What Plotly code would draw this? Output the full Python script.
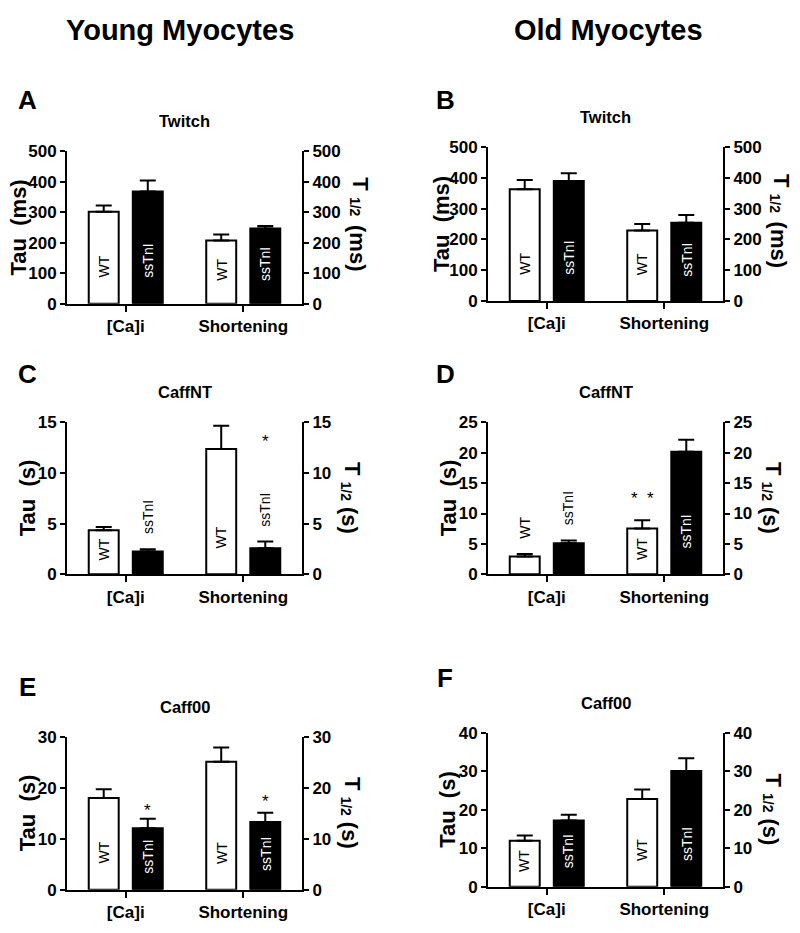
import plotly.graph_objects as go

# ---------------- data ----------------
categories = ["[Ca]i", "Shortening"]
genotypes = ["WT", "ssTnI"]
panel_letters = ["A", "B", "C", "D", "E", "F"]
panel_titles = ["Twitch", "Twitch", "CaffNT", "CaffNT", "Caff00", "Caff00"]
unit_labels = ["ms", "ms", "s", "s", "s", "s"]
axis_max = [500, 500, 15, 25, 30, 40]
axis_step = [100, 100, 5, 5, 10, 10]
column_headers = ["Young Myocytes", "Old Myocytes"]

# means / SEM, order: [Ca]i, Shortening
wt_A = [301, 207]
wt_A_sem = [21, 20]
ss_A = [368, 247]
ss_A_sem = [36, 8]

wt_B = [363, 229]
wt_B_sem = [30, 21]
ss_B = [390, 254]
ss_B_sem = [25, 25]

wt_C = [4.34, 12.37]
wt_C_sem = [0.32, 2.31]
ss_C = [2.25, 2.57]
ss_C_sem = [0.22, 0.67]

wt_D = [2.94, 7.55]
wt_D_sem = [0.38, 1.34]
ss_D = [5.09, 20.18]
ss_D_sem = [0.48, 1.98]

wt_E = [18.0, 25.1]
wt_E_sem = [1.7, 2.8]
ss_E = [12.05, 13.3]
ss_E_sem = [1.9, 1.8]

wt_F = [11.94, 22.8]
wt_F_sem = [1.4, 2.5]
ss_F = [17.2, 30.1]
ss_F_sem = [1.5, 3.3]

wt_means = [wt_A, wt_B, wt_C, wt_D, wt_E, wt_F]
wt_sems = [wt_A_sem, wt_B_sem, wt_C_sem, wt_D_sem, wt_E_sem, wt_F_sem]
ss_means = [ss_A, ss_B, ss_C, ss_D, ss_E, ss_F]
ss_sems = [ss_A_sem, ss_B_sem, ss_C_sem, ss_D_sem, ss_E_sem, ss_F_sem]

# significance marks: (panel, genotype index, category index, text, y)
sig_marks = [
    (2, 1, 1, "*", 13.15),
    (3, 0, 1, "*\u00a0\u00a0*", 12.45),
    (4, 1, 0, "*", 15.6),
    (4, 1, 1, "*", 17.3),
]

# ---------------- layout geometry (pixels in the page) ----------------
W, H = 800, 933
FONT = "Liberation Sans, Arial, Helvetica, sans-serif"
# x0, x1, ytop, ybottom
boxes = [
    (67, 302, 145, 301),
    (488, 723, 141, 298),
    (67, 302, 422, 577),
    (488, 723, 422, 577),
    (67, 302, 743, 899),
    (488, 723, 739, 896),
]
letter_pos = [(27, 93), (445, 93), (27, 373), (445, 373), (27, 692), (445, 683)]
left_title_x = [18, 441, 27, 448, 27, 448]
right_title_x = [361, 781, 352, 773, 352, 774]
# vertical offsets (px from plot centre) of "T", "1/2", unit in right title
right_title_dy = {"ms": (-44, -21, 21), "s": (-30, -7, 22)}
# bar-label placement: True -> above bar (outside)
label_outside = [
    [[False, False], [False, False]],
    [[False, False], [False, False]],
    [[False, False], [True, True]],
    [[True, False], [True, False]],
    [[False, False], [False, False]],
    [[False, False], [False, False]],
]
label_len = [22, 35]
BAR_OFF = 0.1875


def px(x):
    return x / W


def py(y):
    return 1 - y / H


fig = go.Figure()
annotations = []
layout = {}

for p in range(6):
    n = p + 1
    nr = p + 7
    x0, x1, yt, yb = boxes[p]
    xname = "x" if n == 1 else f"x{n}"
    yname = "y" if n == 1 else f"y{n}"
    yrname = f"y{nr}"
    plot_h = yb - yt

    for g, (means, sems) in enumerate([(wt_means[p], wt_sems[p]), (ss_means[p], ss_sems[p])]):
        fill = "white" if g == 0 else "black"
        fig.add_trace(go.Bar(
            x=[0, 1], y=means, name=genotypes[g], showlegend=False,
            marker=dict(color=fill, line=dict(color="black", width=2)),
            error_y=dict(type="data", symmetric=False, array=sems,
                         arrayminus=[0] * len(sems), color="black",
                         thickness=2, width=8),
            xaxis=xname, yaxis=yname, hoverinfo="skip",
        ))
        # rotated bar labels
        for c in range(2):
            xc = c + (-BAR_OFF if g == 0 else BAR_OFF)
            if label_outside[p][g][c]:
                annotations.append(dict(
                    x=xc, y=means[c] + sems[c], xref=xname, yref=yname,
                    text=genotypes[g], showarrow=False, textangle=-90,
                    yanchor="bottom", xanchor="center", yshift=13,
                    font=dict(family=FONT, size=14, color="black")))
            else:
                bar_px = means[c] / axis_max[p] * plot_h
                shift = min(24, max(2, (bar_px - label_len[g]) / 2))
                annotations.append(dict(
                    x=xc, y=0, xref=xname, yref=yname,
                    text=genotypes[g], showarrow=False, textangle=-90,
                    yanchor="bottom", xanchor="center", yshift=shift,
                    font=dict(family=FONT, size=14,
                              color="black" if g == 0 else "white")))

    # invisible carrier so the right axis is drawn
    fig.add_trace(go.Bar(x=[0, 1], y=[0, 0], xaxis=xname, yaxis=yrname,
                         showlegend=False, hoverinfo="skip",
                         marker=dict(color="rgba(0,0,0,0)",
                                     line=dict(width=0)), width=0.0001))

    axis_common = dict(showline=True, linewidth=2, linecolor="black",
                       ticks="outside", tickwidth=2, tickcolor="black",
                       showgrid=False, zeroline=False, fixedrange=True)
    layout["xaxis" if n == 1 else f"xaxis{n}"] = dict(
        domain=[px(x0), px(x1)], anchor=yname, range=[-0.5, 1.5],
        tickmode="array", tickvals=[0, 1], ticktext=categories, ticklen=6,
        tickfont=dict(family=FONT, size=17, color="black", weight="bold"),
        **axis_common)
    layout["yaxis" if n == 1 else f"yaxis{n}"] = dict(
        domain=[py(yb), py(yt)], anchor=xname, range=[0, axis_max[p]],
        dtick=axis_step[p], tick0=0, ticklen=5,
        tickfont=dict(family=FONT, size=17, color="black", weight="bold"),
        **axis_common)
    layout[f"yaxis{nr}"] = dict(
        domain=[py(yb), py(yt)], anchor=xname, overlaying=yname, side="right",
        range=[0, axis_max[p]], dtick=axis_step[p], tick0=0, ticklen=5,
        tickfont=dict(family=FONT, size=17, color="black", weight="bold"),
        **axis_common)

    # panel title
    annotations.append(dict(
        x=px((x0 + x1) / 2), y=py(yt - 31), xref="paper", yref="paper",
        text=panel_titles[p], showarrow=False, xanchor="center", yanchor="middle",
        font=dict(family=FONT, size=16.5, color="black", weight="bold")))
    # panel letter
    lx, ly = letter_pos[p]
    annotations.append(dict(
        x=px(lx), y=py(ly), xref="paper", yref="paper",
        text=panel_letters[p], showarrow=False, xanchor="center", yanchor="middle",
        font=dict(family=FONT, size=26, color="black", weight="bold")))
    # left axis title
    annotations.append(dict(
        x=px(left_title_x[p]), y=py((yt + yb) / 2), xref="paper", yref="paper",
        text=f"Tau\u00a0\u00a0({unit_labels[p]})", showarrow=False, textangle=-90,
        xanchor="center", yanchor="middle",
        font=dict(family=FONT, size=22, color="black", weight="bold")))
    # right axis title: "T", "1/2", "(unit)"
    dyT, dyS, dyU = right_title_dy[unit_labels[p]]
    yc = (yt + yb) / 2
    xr = right_title_x[p]
    for txt, dy, dx, size in [("T", dyT, 0, 22), ("1/2", dyS, -6, 14),
                              (f"({unit_labels[p]})", dyU, -3, 22)]:
        annotations.append(dict(
            x=px(xr + dx), y=py(yc + dy), xref="paper", yref="paper",
            text=txt, showarrow=False, textangle=90,
            xanchor="center", yanchor="middle",
            font=dict(family=FONT, size=size, color="black", weight="bold")))

# significance asterisks
for (p, g, c, txt, yv) in sig_marks:
    n = p + 1
    xname = "x" if n == 1 else f"x{n}"
    yname = "y" if n == 1 else f"y{n}"
    annotations.append(dict(
        x=c + (-BAR_OFF if g == 0 else BAR_OFF), y=yv, xref=xname, yref=yname,
        text=txt, showarrow=False, xanchor="center", yanchor="middle",
        font=dict(family=FONT, size=17, color="black")))

# column headers
for i, hdr in enumerate(column_headers):
    annotations.append(dict(
        x=px([180, 608][i]), y=py(21), xref="paper", yref="paper",
        text=hdr, showarrow=False, xanchor="center", yanchor="middle",
        font=dict(family="Liberation Sans Narrow, " + FONT, size=29,
                  color="black", weight="bold")))

fig.update_layout(
    width=W, height=H, margin=dict(l=0, r=0, t=0, b=0),
    paper_bgcolor="white", plot_bgcolor="white",
    barmode="group", bargap=0.25, bargroupgap=0.32,
    showlegend=False, annotations=annotations,
    font=dict(family=FONT, color="black"),
    **layout,
)

fig.write_html("out.html", config={"displayModeBar": False},
               post_script="document.body.style.margin='0';")
